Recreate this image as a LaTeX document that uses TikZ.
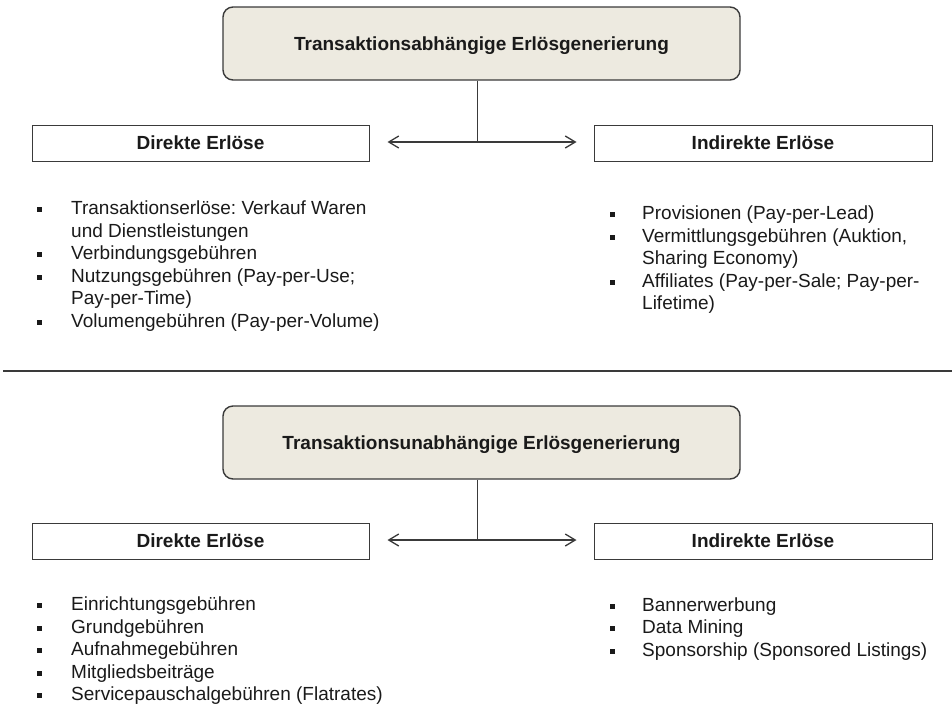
\documentclass[tikz,border=0pt]{standalone}
\usepackage{fontspec}
\setmainfont{Liberation Sans}
\usetikzlibrary{arrows.meta}
\definecolor{boxfill}{HTML}{EDEAE0}
\definecolor{ink}{HTML}{1A1A1A}
\definecolor{rim}{HTML}{3A3A3A}
\frenchspacing
\begin{document}
\begin{tikzpicture}[x=1pt,y=-1pt,
  every node/.style={text=ink, font=\fontsize{19}{22.5}\selectfont},
  headbox/.style={draw=rim, line width=1.4pt, fill=boxfill, rounded corners=10pt,
    minimum width=517pt, minimum height=73pt, inner sep=0pt,
    font=\fontsize{19}{22.5}\selectfont\bfseries, text height=13.6pt, text depth=0pt},
  subbox/.style={draw=rim, line width=1pt, fill=white,
    minimum width=337pt, minimum height=36pt, inner sep=0pt,
    font=\fontsize{19}{22.5}\selectfont\bfseries, text height=13.6pt, text depth=0pt},
  itemtext/.style={anchor=base west, inner sep=0pt},
  bul/.style={shape=rectangle, fill=ink, minimum size=5pt, inner sep=0pt},
  link/.style={draw=rim, line width=1pt},
  biarrow/.style={draw=rim, line width=1.3pt,
    {Straight Barb[length=10pt,width=12pt]}-{Straight Barb[length=10pt,width=12pt]}},
]
\useasboundingbox (0,0) rectangle (952,707);

% ---------- transaction-dependent revenue ----------
\node[headbox] (headA) at (481.5,43.5) {Transaktionsabh\"angige Erl\"osgenerierung};
\node[subbox] (dirA) at (200.5,143) {Direkte Erl\"ose};
\node[subbox, minimum width=338pt] (indA) at (763,143) {Indirekte Erl\"ose};
\coordinate (jA) at (477,142);
\draw[link] (headA.south -| jA) -- (jA);
\draw[biarrow] ([xshift=18pt,yshift=1pt]dirA.east) -- ([xshift=-17pt,yshift=1pt]indA.west);

% left list
\node[bul] (bA1) at (39.5,209.5) {};
\node[itemtext] (tA1) at (71,214.5) {Transaktionserl\"ose: Verkauf Waren};
\node[itemtext] (tA2) at (71,237) {und Dienstleistungen};
\node[bul] (bA3) at (39.5,254.5) {};
\node[itemtext] (tA3) at (71,259.5) {Verbindungsgeb\"uhren};
\node[bul] (bA4) at (39.5,277) {};
\node[itemtext] (tA4) at (71,282) {Nutzungsgeb\"uhren (Pay-per-Use;};
\node[itemtext] (tA5) at (71,304.5) {Pay-per-Time)};
\node[bul] (bA6) at (39.5,322) {};
\node[itemtext] (tA6) at (71,327) {Volumengeb\"uhren (Pay-per-Volume)};

% right list
\node[bul] (cA1) at (612.5,214.5) {};
\node[itemtext] (uA1) at (642,219.5) {Provisionen (Pay-per-Lead)};
\node[bul] (cA2) at (612.5,237) {};
\node[itemtext] (uA2) at (642,242) {Vermittlungsgeb\"uhren (Auktion,};
\node[itemtext] (uA3) at (642,264.5) {Sharing Economy)};
\node[bul] (cA4) at (612.5,282) {};
\node[itemtext] (uA4) at (642,287) {Affiliates (Pay-per-Sale; Pay-per-};
\node[itemtext] (uA5) at (642,309.5) {Lifetime)};

% ---------- separator ----------
\coordinate (sepL) at (3,371);
\coordinate (sepR) at (952,371);
\draw[draw=rim, line width=1.3pt] (sepL) -- (sepR);

% ---------- transaction-independent revenue ----------
\node[headbox] (headB) at (481.5,442.5) {Transaktionsunabh\"angige Erl\"osgenerierung};
\node[subbox] (dirB) at (200.5,541) {Direkte Erl\"ose};
\node[subbox, minimum width=338pt] (indB) at (763,541) {Indirekte Erl\"ose};
\coordinate (jB) at (477,540);
\draw[link] (headB.south -| jB) -- (jB);
\draw[biarrow] ([xshift=18pt,yshift=1pt]dirB.east) -- ([xshift=-17pt,yshift=1pt]indB.west);

% left list
\node[bul] (bB1) at (39.5,605.5) {};
\node[itemtext] (tB1) at (71,610.5) {Einrichtungsgeb\"uhren};
\node[bul] (bB2) at (39.5,628) {};
\node[itemtext] (tB2) at (71,633) {Grundgeb\"uhren};
\node[bul] (bB3) at (39.5,650.5) {};
\node[itemtext] (tB3) at (71,655.5) {Aufnahmegeb\"uhren};
\node[bul] (bB4) at (39.5,673) {};
\node[itemtext] (tB4) at (71,678) {Mitgliedsbeitr\"age};
\node[bul] (bB5) at (39.5,695.5) {};
\node[itemtext] (tB5) at (71,700.5) {Servicepauschalgeb\"uhren (Flatrates)};

% right list
\node[bul] (cB1) at (612.5,606) {};
\node[itemtext] (uB1) at (642,611) {Bannerwerbung};
\node[bul] (cB2) at (612.5,628.5) {};
\node[itemtext] (uB2) at (642,633.5) {Data Mining};
\node[bul] (cB3) at (612.5,651) {};
\node[itemtext] (uB3) at (642,656) {Sponsorship (Sponsored Listings)};
\end{tikzpicture}
\end{document}
